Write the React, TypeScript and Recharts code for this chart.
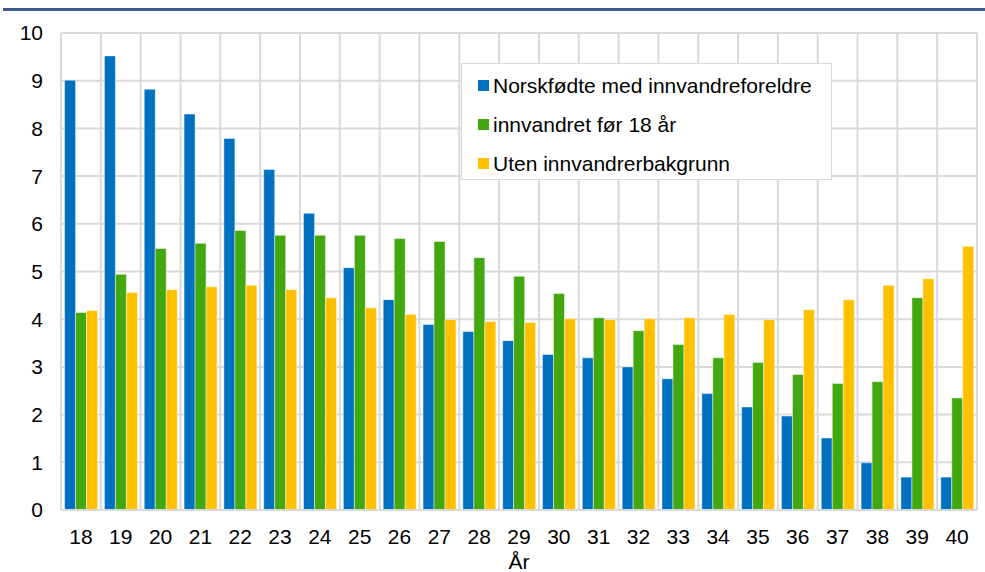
import { BarChart, Bar, XAxis, YAxis, CartesianGrid } from 'recharts';

const ages = ['18', '19', '20', '21', '22', '23', '24', '25', '26', '27', '28', '29', '30', '31', '32', '33', '34', '35', '36', '37', '38', '39', '40'];

const norskfodte = [9.01, 9.52, 8.82, 8.3, 7.79, 7.14, 6.22, 5.08, 4.41, 3.89, 3.74, 3.55, 3.26, 3.19, 3.0, 2.75, 2.44, 2.16, 1.97, 1.51, 0.99, 0.69, 0.69];
const innvandretFor18 = [4.14, 4.94, 5.48, 5.59, 5.86, 5.76, 5.76, 5.76, 5.69, 5.63, 5.29, 4.9, 4.54, 4.03, 3.76, 3.47, 3.19, 3.09, 2.84, 2.65, 2.69, 4.45, 2.35];
const utenBakgrunn = [4.18, 4.56, 4.62, 4.68, 4.71, 4.62, 4.45, 4.24, 4.1, 3.99, 3.95, 3.93, 4.01, 3.99, 4.01, 4.03, 4.1, 3.99, 4.2, 4.41, 4.71, 4.85, 5.53];

const yTicks = [0, 1, 2, 3, 4, 5, 6, 7, 8, 9, 10];

const series = [
  { key: 'norsk', name: 'Norskfødte med innvandreforeldre', color: '#0070C0' },
  { key: 'innv', name: 'innvandret før 18 år', color: '#43A70F' },
  { key: 'uten', name: 'Uten innvandrerbakgrunn', color: '#FFC000' }
];

const data = ages.map((age, i) => ({
  age,
  norsk: norskfodte[i],
  innv: innvandretFor18[i],
  uten: utenBakgrunn[i]
}));

const FONT = '"Liberation Sans", Arial, sans-serif';
const FS = 21;

// legend sits over the plot, so it is drawn as an overlay and takes no room from the chart
function LegendBox() {
  return (
    <div
      style={{
        position: 'absolute',
        left: 461,
        top: 63,
        width: 371,
        height: 117,
        background: '#fff',
        border: '1px solid #D9D9D9',
        boxSizing: 'border-box',
        padding: '2px 0 0 16px',
        fontFamily: FONT,
        fontSize: FS,
        color: '#000'
      }}
    >
      {series.map(s => (
        <div key={s.key} style={{ display: 'flex', alignItems: 'center', height: 39 }}>
          <span style={{ width: 11, height: 11, background: s.color, marginRight: 4, flexShrink: 0 }} />
          <span>{s.name}</span>
        </div>
      ))}
    </div>
  );
}

export default function App() {
  return (
    <div style={{ position: 'relative', width: 985, height: 572, background: '#fff' }}>
      <style>{'body{margin:0}'}</style>
      <div style={{ position: 'absolute', left: 3, right: 0, top: 8, height: 3, background: '#41598A' }} />
      <BarChart
        width={985}
        height={572}
        data={data}
        margin={{ top: 33, right: 8, left: 0, bottom: 0 }}
        barCategoryGap="9%"
        barGap={0}
      >
        <CartesianGrid
          stroke="#D9D9D9"
          strokeWidth={2}
          verticalCoordinatesGenerator={({ offset }: any) =>
            Array.from({ length: ages.length + 1 }, (_, i) => offset.left + (i * offset.width) / ages.length)
          }
        />
        <XAxis
          dataKey="age"
          height={62}
          axisLine={{ stroke: '#D9D9D9', strokeWidth: 2 }}
          tickLine={false}
          tickSize={0}
          tickMargin={19}
          tick={{ fill: '#000', fontSize: FS, fontFamily: FONT }}
          interval={0}
          label={{ value: 'År', position: 'insideBottom', offset: 3, fill: '#000', fontSize: FS, fontFamily: FONT }}
        />
        <YAxis
          width={61}
          domain={[0, 10]}
          ticks={yTicks}
          axisLine={false}
          tickLine={false}
          tickSize={0}
          tickMargin={18}
          tick={{ fill: '#000', fontSize: FS, fontFamily: FONT }}
        />
        {series.map(s => (
          <Bar
            key={s.key}
            dataKey={s.key}
            name={s.name}
            fill={s.color}
            stroke="#ffffff"
            strokeOpacity={0.45}
            strokeWidth={1}
            isAnimationActive={false}
          />
        ))}
      </BarChart>
      <LegendBox />
    </div>
  );
}
